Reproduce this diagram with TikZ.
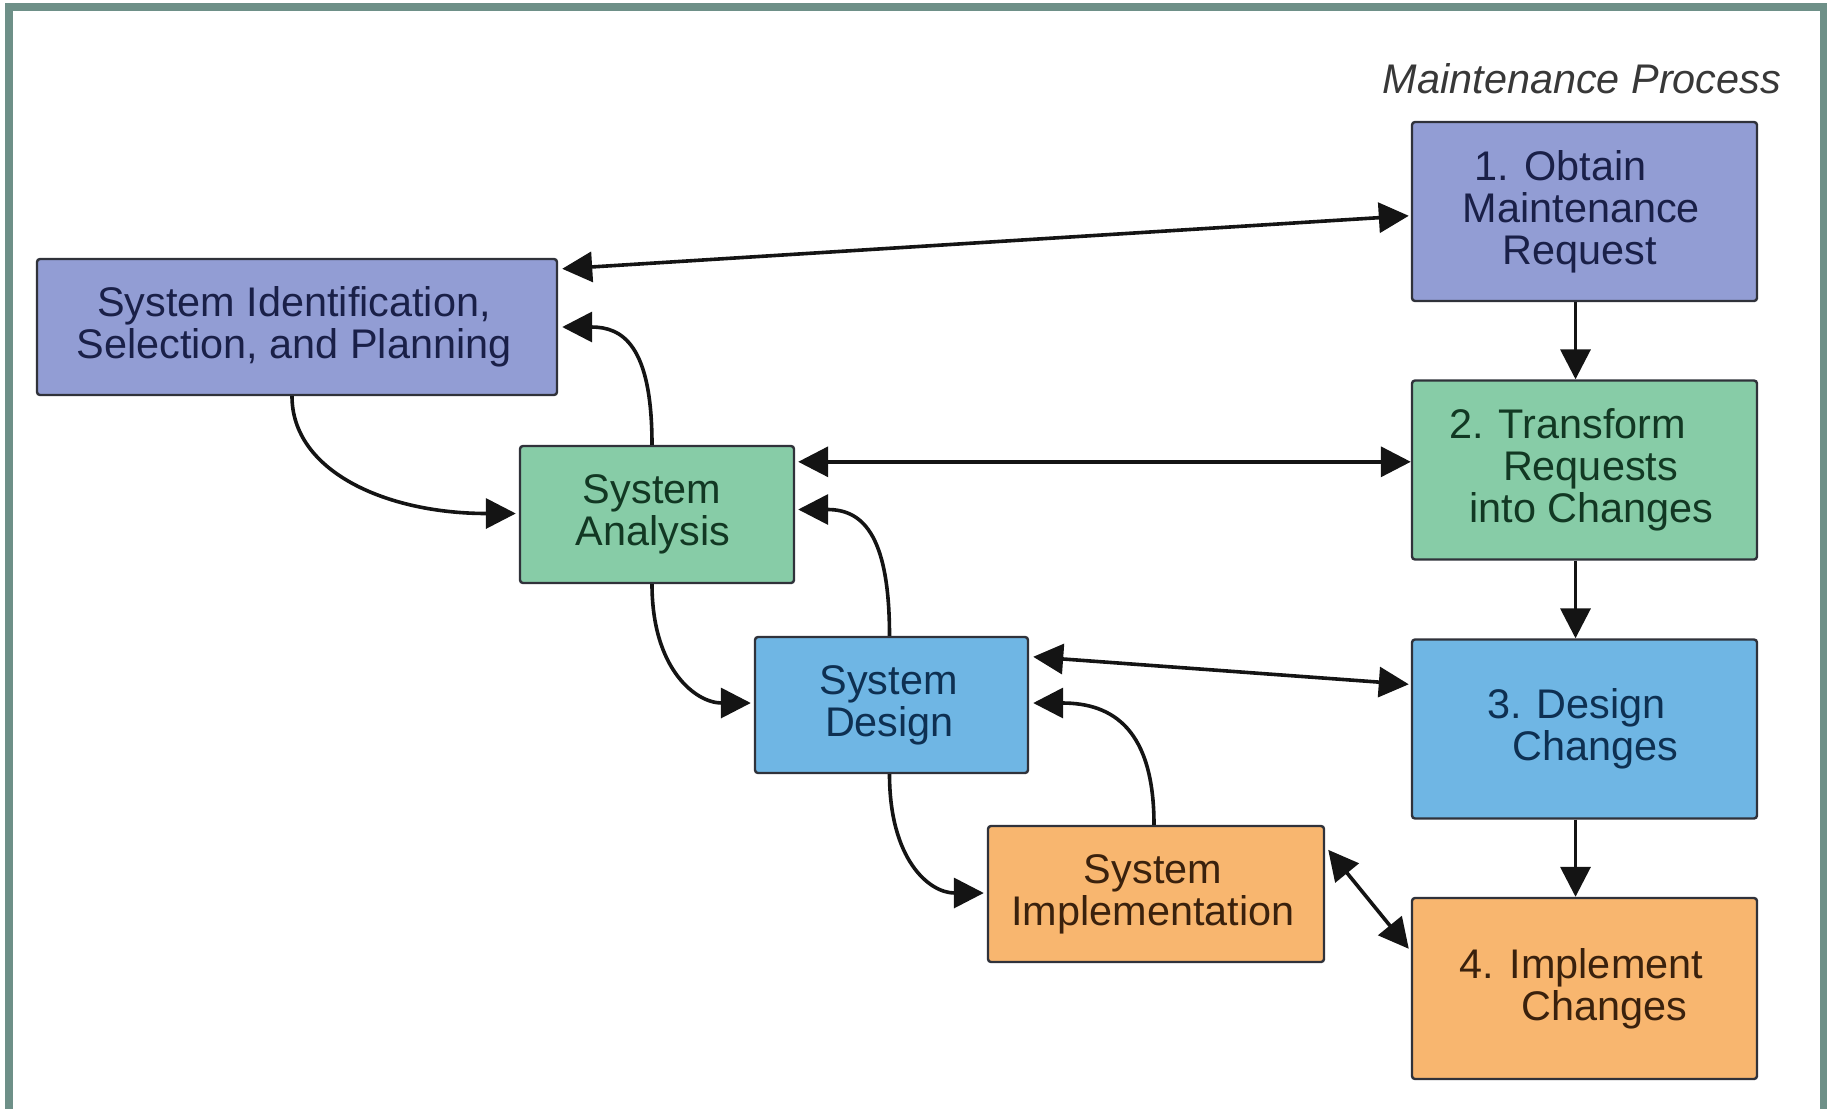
\documentclass[tikz,border=0pt]{standalone}
\usepackage{fontspec}
\setmainfont{Liberation Sans}
\usetikzlibrary{arrows.meta,calc}

\definecolor{frameteal}{HTML}{6E9088}
\definecolor{boxline}{HTML}{30323A}
\definecolor{purplefill}{HTML}{929DD4}
\definecolor{purpletext}{HTML}{1A2048}
\definecolor{greenfill}{HTML}{87CCA7}
\definecolor{greentext}{HTML}{123823}
\definecolor{bluefill}{HTML}{6FB6E4}
\definecolor{bluetext}{HTML}{0E3052}
\definecolor{orangefill}{HTML}{F8B66F}
\definecolor{orangetext}{HTML}{3A210D}

% one line of a box label, nudged sideways by #1 (in pt of kern)
\newcommand\shl[2]{\makebox[0pt]{\kern#1pt #2}}

\begin{document}
\begin{tikzpicture}[x=0.5pt,y=-0.5pt,
  box/.style={draw=boxline, line width=1.2pt, rounded corners=1.5pt,
    align=center, inner sep=0pt,
    font=\fontsize{20.7}{21}\selectfont},
  purplebox/.style={box, fill=purplefill, text=purpletext},
  greenbox/.style={box, fill=greenfill, text=greentext},
  bluebox/.style={box, fill=bluefill, text=bluetext},
  orangebox/.style={box, fill=orangefill, text=orangetext},
  stagebox/.style={minimum width=172.5pt, minimum height=89.5pt},
  tip/.tip={Triangle[length=15pt,width=15pt]},
  conn/.style={line width=1.8pt, draw=black!92, -tip},
  dbl/.style={line width=1.8pt, draw=black!92, tip-tip}
]
\useasboundingbox (0,0) rectangle (1827,1109);

% outer frame (open at the bottom)
\draw[frameteal, line width=3.6pt] (9,1109) -- (9,7) -- (1824,7) -- (1824,1109);

% heading of the right-hand column
\node[font=\fontsize{20.7}{21}\selectfont\itshape, text=black!78] (title) at (1582,79) {Maintenance Process};

% maintenance process column
\node[purplebox, stagebox] (m1) at (1584.5,211.5)
  {\shl{-24}{1. Obtain}\\\shl{-3}{Maintenance}\\\shl{-5}{Request}};
\node[greenbox, stagebox]  (m2) at (1584.5,470)
  {\shl{-17}{2. Transform}\\\shl{6}{Requests}\\\shl{7}{into Changes}};
\node[bluebox, stagebox]   (m3) at (1584.5,729)
  {\shl{-8}{3. Design}\\\shl{11}{Changes}};
\node[orangebox, stagebox, minimum height=90.5pt] (m4) at (1584.5,988.5)
  {\shl{-3}{4. Implement}\\\shl{20}{Changes}};

% development life cycle cascade
\node[purplebox, minimum width=260pt, minimum height=68pt] (sid) at (297,327)
  {\shl{-3}{System Identification,}\\\shl{-3}{Selection, and Planning}};
\node[greenbox, minimum width=137pt, minimum height=68.5pt] (sa) at (657,514.5)
  {\shl{-5}{System}\\\shl{-4}{Analysis}};
\node[bluebox, minimum width=136.5pt, minimum height=68pt] (sd) at (891.5,705)
  {\shl{-3}{System}\\\shl{-2}{Design}};
\node[orangebox, minimum width=168pt, minimum height=68pt] (si) at (1156,894)
  {\shl{-3}{System}\\\shl{-3}{Implementation}};

% vertical flow of the maintenance process
\draw[conn] ([shift={(-9,0)}]m1.south) -- ([shift={(-9,0)}]m2.north);
\draw[conn] ([shift={(-9,0)}]m2.south) -- ([shift={(-9,0)}]m3.north);
\draw[conn] ([shift={(-9,0)}]m3.south) -- ([shift={(-9,0)}]m4.north);

% links between each phase and its maintenance step
\draw[dbl] ([shift={(4,11)}]sid.north east) -- ([shift={(-2,95)}]m1.north west);
\coordinate (sa-r) at ([shift={(3,17)}]sa.north east);
\draw[dbl] (sa-r) -- (sa-r -| m2.west);
\draw[dbl] ([shift={(4,21)}]sd.north east) -- ([shift={(-2,46)}]m3.north west);
\draw[dbl] ([shift={(3,25)}]si.north east) -- ([shift={(-2,52)}]m4.north west);

% forward steps down the cascade
\draw[conn] ([shift={(-5,0)}]sid.south) .. controls +(0,75) and +(-130,0) .. ([shift={(-3,-1)}]sa.west);
\draw[conn] ([shift={(-5,0)}]sa.south) .. controls +(0,85) and +(-55,0) .. ([shift={(-3,-2)}]sd.west);
\draw[conn] ([shift={(-2,0)}]sd.south) .. controls +(0,85) and +(-55,0) .. ([shift={(-3,-1)}]si.west);

% returns back up the cascade
\draw[conn] ([shift={(-5,0)}]sa.north) .. controls +(0,-100) and +(60,0) .. ([shift={(4,0)}]sid.east);
\draw[conn] ([shift={(-2,0)}]sd.north) .. controls +(0,-105) and +(62,0) .. ([shift={(3,-5)}]sa.east);
\draw[conn] ([shift={(-2,0)}]si.north) .. controls +(0,-95) and +(80,0) .. ([shift={(4,-2)}]sd.east);
\end{tikzpicture}
\end{document}
